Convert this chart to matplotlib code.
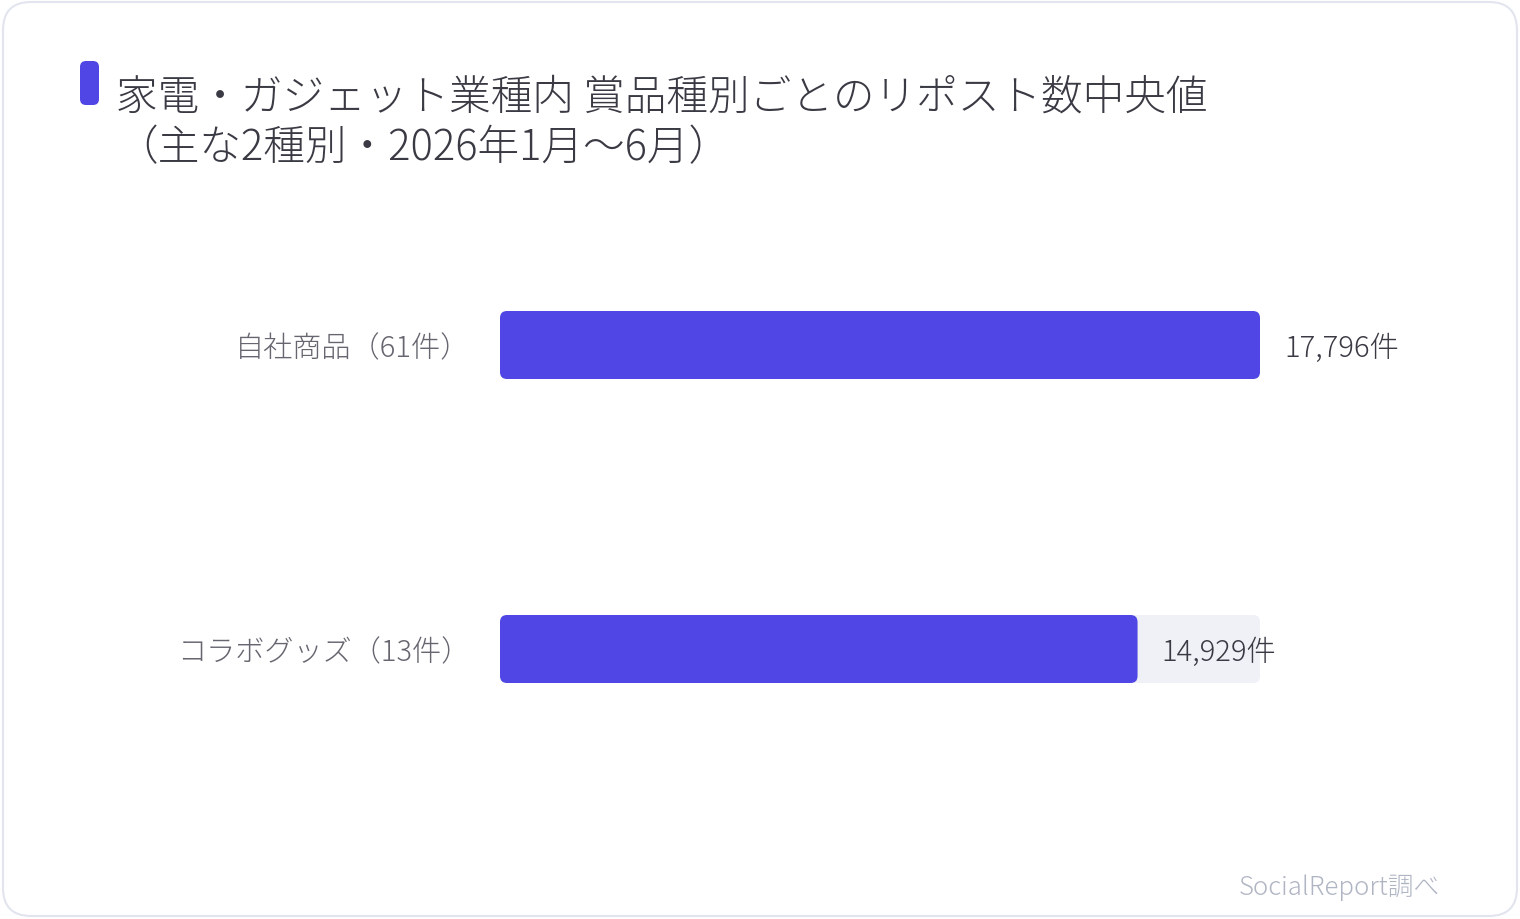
import matplotlib
matplotlib.use('Agg')
import matplotlib.pyplot as plt
from matplotlib.patches import FancyBboxPatch

plt.rcParams['font.family'] = ['Noto Sans CJK JP', 'DejaVu Sans']

# data
categories = ['自社商品（61件）', 'コラボグッズ（13件）']
values = [17796, 14929]
title_lines = ['家電・ガジェット業種内 賞品種別ごとのリポスト数中央値', '（主な2種別・2026年1月〜6月）']
source = 'SocialReport調べ'

W, H = 1520, 920
accent = '#4f46e5'
track = '#f0f1f7'

fig = plt.figure(figsize=(W / 100, H / 100), dpi=100)

# background axes in pixel coordinates (card, title, footer)
bg = fig.add_axes([0, 0, 1, 1])
bg.set_xlim(0, W)
bg.set_ylim(H, 0)
bg.axis('off')
bg.add_patch(FancyBboxPatch((3, 3), W - 6, H - 6, boxstyle='round,pad=0,rounding_size=28',
                            facecolor='white', edgecolor='#e2e5ef', linewidth=1.5))
bg.add_patch(FancyBboxPatch((80, 62), 19, 44, boxstyle='round,pad=0,rounding_size=6',
                            facecolor=accent, edgecolor='none'))
bg.text(116, 98, title_lines[0], fontsize=30, color='#3a3a44', va='center', ha='left', fontweight='light')
bg.text(116, 148, title_lines[1], fontsize=30, color='#3a3a44', va='center', ha='left', fontweight='light')
bg.text(1440, 888, source, fontsize=18.5, color='#b0b5c4', va='center', ha='right', fontweight='light')

# bar axes
x0, x1 = 500, 1260
top, bottom = 194, 802
ax = fig.add_axes([x0 / W, (H - bottom) / H, (x1 - x0) / W, (bottom - top) / H])
ax.patch.set_alpha(0)
vmax = max(values)
ax.set_xlim(0, vmax)
ax.set_ylim(-0.5, len(values) - 0.5)
ax.axis('off')

px_x = vmax / (x1 - x0)       # data units per pixel in x
px_y = 1.0 / ((bottom - top) / len(values))  # data units per pixel in y
bar_h = 68 * px_y
r = 7 * px_x
aspect = px_y / px_x

for i, (cat, v) in enumerate(zip(categories, values)):
    y = len(values) - 1 - i
    ax.add_patch(FancyBboxPatch((0, y - bar_h / 2), vmax, bar_h,
                                boxstyle=f'round,pad=0,rounding_size={r}', mutation_aspect=aspect,
                                facecolor=track, edgecolor='none'))
    ax.add_patch(FancyBboxPatch((0, y - bar_h / 2), v, bar_h,
                                boxstyle=f'round,pad=0,rounding_size={r}', mutation_aspect=aspect,
                                facecolor=accent, edgecolor='none'))
    ax.text(v + 24 * px_x, y - 3 * px_y, f'{v:,}件', fontsize=21, color='#3a3a44', va='center', ha='left',
            fontweight='light')
    ax.text(-30 * px_x, y - 3 * px_y, cat, fontsize=21, color='#666670', va='center', ha='right',
            fontweight='light', clip_on=False)

fig.savefig('out.png', dpi=100)
